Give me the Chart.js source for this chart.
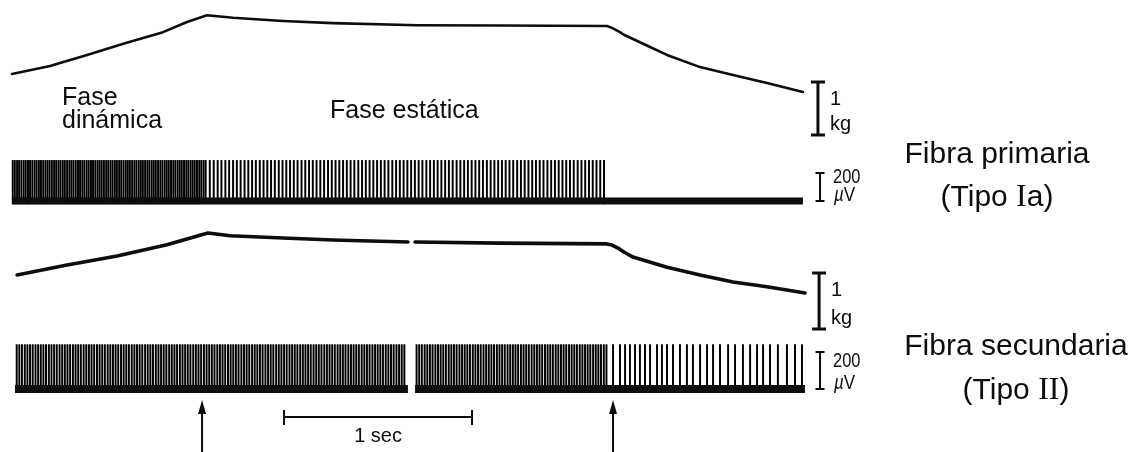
<!DOCTYPE html>
<html>
<head>
<meta charset="utf-8">
<script src="https://cdn.jsdelivr.net/npm/chart.js@4.4.1/dist/chart.umd.min.js"></script>
<style>
  html, body { margin: 0; padding: 0; background: #ffffff; }
  canvas { display: block; }
</style>
</head>
<body>
<canvas id="rec" width="1136" height="452" style="width:1136px;height:452px"></canvas>
<script>
// ---- Recorded data -------------------------------------------------------
// Muscle tension, primary fibre record (time in s, tension in kg relative to start)
const tensionPrimaryT  = [0, 0.202, 0.399, 0.601, 0.803, 0.931, 1.037, 1.176, 1.441, 1.707, 2.154, 2.596, 3.165, 3.191, 3.229, 3.255, 3.303, 3.394, 3.484, 3.660, 3.835, 4.016, 4.207];
const tensionPrimaryKg = [0, 0.15, 0.36, 0.58, 0.79, 0.98, 1.11, 1.06, 1.00, 0.96, 0.92, 0.915, 0.906, 0.87, 0.80, 0.74, 0.66, 0.51, 0.36, 0.13, -0.02, -0.17, -0.34];

// Muscle tension, secondary fibre record (null = gap in the trace)
const tensionSecondaryT  = [0.027, 0.293, 0.559, 0.824, 1.000, 1.043, 1.160, 1.441, 1.707, 2.106, 2.125, 2.144, 2.596, 3.165, 3.191, 3.229, 3.255, 3.303, 3.484, 3.660, 3.835, 4.016, 4.218];
const tensionSecondaryKg = [0, 0.18, 0.34, 0.54, 0.71, 0.75, 0.70, 0.66, 0.625, 0.59, null, 0.59, 0.57, 0.555, 0.535, 0.47, 0.41, 0.32, 0.14, 0, -0.125, -0.21, -0.32];

// Action potentials of the primary (Ia) ending, ms
const spikesPrimaryMs = [
  4, 15, 27, 38, 50, 62, 73, 85, 96, 108, 120, 131, 143, 154, 166, 178, 189, 200, 212, 224,
  235, 247, 258, 270, 281, 293, 305, 316, 327, 339, 351, 362, 374, 385, 397, 408, 420, 431, 443, 455,
  466, 477, 489, 501, 512, 524, 535, 547, 558, 570, 581, 593, 605, 616, 627, 639, 651, 662, 674, 685,
  696, 708, 720, 731, 743, 754, 765, 777, 789, 800, 812, 823, 834, 846, 858, 869, 881, 892, 903, 915,
  927, 938, 950, 961, 972, 984, 996, 1007, 1019, 1030,
  1052, 1073, 1094, 1114, 1135, 1155, 1176, 1196, 1216, 1237, 1257, 1277, 1297, 1318, 1338, 1358, 1378, 1398, 1419, 1439,
  1459, 1479, 1499, 1519, 1540, 1560, 1580, 1600, 1620, 1640, 1660, 1681, 1701, 1721, 1741, 1761, 1781, 1801, 1821, 1842,
  1862, 1882, 1902, 1922, 1942, 1962, 1982, 2002, 2023, 2043, 2063, 2083, 2103, 2123, 2143, 2163, 2183, 2204, 2224, 2244,
  2264, 2284, 2304, 2324, 2344, 2365, 2385, 2405, 2425, 2445, 2465, 2485, 2505, 2526, 2546, 2566, 2586, 2606, 2626, 2646,
  2666, 2687, 2707, 2727, 2747, 2767, 2787, 2807, 2827, 2848, 2868, 2888, 2908, 2928, 2948, 2968, 2988, 3009, 3029, 3049,
  3069, 3089, 3109, 3129, 3149
];

// Action potentials of the secondary (II) ending, ms
const spikesSecondaryMs = [
  25, 39, 53, 68, 82, 96, 110, 125, 139, 153, 167, 181, 196, 210, 224, 238, 253, 267, 281, 295,
  309, 324, 338, 352, 366, 381, 395, 409, 423, 437, 452, 466, 480, 494, 509, 523, 537, 551, 565, 580,
  594, 608, 622, 637, 651, 665, 679, 693, 708, 722, 736, 750, 765, 779, 793, 807, 821, 836, 850, 864,
  878, 893, 907, 921, 935, 949, 964, 978, 992, 1006, 1021, 1035, 1049, 1063, 1077, 1092, 1106, 1120, 1134, 1149,
  1163, 1177, 1191, 1205, 1220, 1234, 1248, 1262, 1277, 1291, 1305, 1319, 1333, 1348, 1362, 1376, 1390, 1405, 1419, 1433,
  1447, 1461, 1476, 1490, 1504, 1518, 1533, 1547, 1561, 1575, 1589, 1604, 1618, 1632, 1646, 1661, 1675, 1689, 1703, 1717,
  1732, 1746, 1760, 1774, 1789, 1803, 1817, 1831, 1845, 1860, 1874, 1888, 1902, 1917, 1931, 1945, 1959, 1973, 1988, 2002,
  2016, 2030, 2045, 2059, 2073, 2087,
  2152, 2166, 2180, 2195, 2209, 2223, 2237, 2252, 2266, 2280, 2294, 2308, 2323, 2337, 2351, 2365, 2380, 2394, 2408, 2422,
  2436, 2451, 2465, 2479, 2493, 2508, 2522, 2536, 2550, 2564, 2579, 2593, 2607, 2621, 2636, 2650, 2664, 2678, 2692, 2707,
  2721, 2735, 2749, 2764, 2778, 2792, 2806, 2820, 2835, 2849, 2863, 2877, 2892, 2906, 2920, 2934, 2948, 2963, 2977, 2991,
  3005, 3020, 3034, 3048, 3062, 3076, 3091, 3105, 3119, 3133, 3148, 3162,
  3197, 3234, 3261, 3287, 3314, 3340, 3367, 3394, 3431, 3457, 3484, 3516, 3553, 3590, 3622, 3660, 3697, 3729, 3766, 3809,
  3846, 3888, 3926, 3963, 3995, 4032, 4074, 4122, 4165, 4202
];

const spikeAmpPrimaryUV = 290;
const spikeAmpSecondaryUV = 240;

// Recording spans of the spike channels (s); the secondary record has a short break
const primaryChannelSpans   = [[0, 4.207]];
const secondaryChannelSpans = [[0.016, 2.106], [2.144, 4.218]];

// Events and calibration
const arrowTimesS   = [1.011, 3.197];     // end of stretch, start of release
const timeBarS      = [1.447, 2.447];     // 1 s calibration
const kgBarPrimary   = [-1.151, -0.151];  // 1 kg calibration, primary tension channel
const kgBarSecondary = [-0.964, 0.036];   // 1 kg calibration, secondary tension channel
const uvBar          = [0, 200];          // 200 µV calibration
const calibrationT   = { kg1: 4.287, uv1: 4.298, kg2: 4.293, uv2: 4.298 };

// ---- Layout helpers --------------------------------------------------------
const W = 1136, H = 452;
const PX_PER_S = 188, T0_PX = 12;
// A hidden y scale that puts value 0 at pixel zeroPx with pxPerUnit resolution
function channel(zeroPx, pxPerUnit) {
  return { type: 'linear', display: false, min: (zeroPx - H) / pxPerUnit, max: zeroPx / pxPerUnit };
}
// Hidden time axis (s); each spike channel gets its own copy so bar widths
// are computed from that channel's own spike spacing
function timeAxis() {
  return { type: 'linear', display: false, offset: false, min: -T0_PX / PX_PER_S, max: (W - T0_PX) / PX_PER_S };
}

const INK = '#0d0d0d';
const SANS = '"Liberation Sans", Arial, sans-serif';
const SERIF = '"Liberation Serif", "Times New Roman", serif';

function pts(ts, vs) { return ts.map((t, i) => ({ x: t, y: vs[i] })); }
function spikes(ms, amp) { return ms.map(m => ({ x: m / 1000, y: [-20, amp] })); }
function spans(list) {
  const out = [];
  list.forEach((s, i) => {
    if (i > 0) out.push({ x: (list[i - 1][1] + s[0]) / 2, y: null });
    out.push({ x: s[0], y: 0 }, { x: s[1], y: 0 });
  });
  return out;
}

const spikeStyle = {
  type: 'bar', grouped: false, maxBarThickness: 1.3, barPercentage: 1, categoryPercentage: 1,
  backgroundColor: '#000', borderWidth: 0
};
const lineStyle = {
  type: 'line', pointRadius: 0, tension: 0, fill: false, borderColor: INK,
  borderJoinStyle: 'round', borderCapStyle: 'round', spanGaps: false
};

// ---- Text and calibration overlay -----------------------------------------
function drawSegments(ctx, segs, x, y, align) {
  let total = 0;
  segs.forEach(s => { ctx.font = s.font; s.w = ctx.measureText(s.text).width; total += s.w; });
  let cx = align === 'center' ? x - total / 2 : x;
  segs.forEach(s => { ctx.font = s.font; ctx.fillText(s.text, cx, y); cx += s.w; });
}

function ibar(ctx, x, yTop, yBot, half, lw) {
  ctx.lineWidth = lw;
  ctx.lineCap = 'butt';
  ctx.beginPath();
  ctx.moveTo(x, yTop); ctx.lineTo(x, yBot);
  ctx.moveTo(x - half, yTop); ctx.lineTo(x + half, yTop);
  ctx.moveTo(x - half, yBot); ctx.lineTo(x + half, yBot);
  ctx.stroke();
}

function narrowText(ctx, text, x, y, font, squeeze) {
  ctx.save();
  ctx.translate(x, y);
  ctx.scale(squeeze, 1);
  ctx.font = font;
  ctx.fillText(text, 0, 0);
  ctx.restore();
}

const overlay = {
  id: 'overlay',
  afterDatasetsDraw(chart) {
    const ctx = chart.ctx, s = chart.scales;
    ctx.save();
    ctx.fillStyle = INK;
    ctx.strokeStyle = INK;
    ctx.textBaseline = 'alphabetic';
    ctx.textAlign = 'left';

    // phase labels
    ctx.font = '25px ' + SANS;
    ctx.fillText('Fase', 62, 105);
    ctx.fillText('dinámica', 62, 128);
    ctx.fillText('Fase estática', 330, 118);

    // fibre labels
    const big = '30px ' + SANS, bigSerif = '32px ' + SERIF;
    drawSegments(ctx, [{ text: 'Fibra primaria', font: big }], 997, 163, 'center');
    drawSegments(ctx, [{ text: '(Tipo ', font: big }, { text: 'I', font: bigSerif }, { text: 'a)', font: big }], 997, 206, 'center');
    drawSegments(ctx, [{ text: 'Fibra secundaria', font: big }], 1016, 355, 'center');
    drawSegments(ctx, [{ text: '(Tipo ', font: big }, { text: 'II', font: bigSerif }, { text: ')', font: big }], 1016, 399, 'center');

    // 1 kg calibrations
    [[s.yT1, kgBarPrimary, calibrationT.kg1], [s.yT2, kgBarSecondary, calibrationT.kg2]].forEach(([ys, b, t]) => {
      const x = s.x.getPixelForValue(t);
      const top = ys.getPixelForValue(b[1]), bot = ys.getPixelForValue(b[0]);
      ibar(ctx, x, top, bot, 7, 3);
      ctx.font = '20px ' + SANS;
      ctx.fillText('1', x + 12, top + 23);
      ctx.fillText('kg', x + 12, bot - 5);
    });

    // 200 µV calibrations
    [[s.yS1, calibrationT.uv1, 10], [s.yS2, calibrationT.uv2, 15]].forEach(([ys, t, off]) => {
      const x = s.x.getPixelForValue(t);
      const top = ys.getPixelForValue(uvBar[1]), bot = ys.getPixelForValue(uvBar[0]);
      ibar(ctx, x, top, bot, 4.5, 2);
      narrowText(ctx, '200', x + 13, top + off, '20px ' + SANS, 0.82);
      ctx.save();
      ctx.translate(x + 14, bot);
      ctx.scale(0.85, 1);
      ctx.font = 'italic 20px ' + SANS;
      ctx.fillText('µ', 0, 0);
      const mw = ctx.measureText('µ').width;
      ctx.font = '20px ' + SANS;
      ctx.fillText('V', mw, 0);
      ctx.restore();
    });

    // 1 s time calibration
    const x1 = s.x.getPixelForValue(timeBarS[0]), x2 = s.x.getPixelForValue(timeBarS[1]);
    ctx.lineWidth = 2;
    ctx.beginPath();
    ctx.moveTo(x1, 417); ctx.lineTo(x2, 417);
    ctx.moveTo(x1, 410); ctx.lineTo(x1, 425);
    ctx.moveTo(x2, 410); ctx.lineTo(x2, 425);
    ctx.stroke();
    ctx.font = '20px ' + SANS;
    ctx.textAlign = 'center';
    ctx.fillText('1 sec', (x1 + x2) / 2, 442);
    ctx.textAlign = 'left';

    // event arrows
    arrowTimesS.forEach(t => {
      const x = s.x.getPixelForValue(t);
      ctx.lineWidth = 2;
      ctx.beginPath();
      ctx.moveTo(x, H); ctx.lineTo(x, 410);
      ctx.stroke();
      ctx.beginPath();
      ctx.moveTo(x, 400); ctx.lineTo(x - 4, 414); ctx.lineTo(x + 4, 414);
      ctx.closePath();
      ctx.fill();
    });
    ctx.restore();
  }
};

// ---- Chart -----------------------------------------------------------------
new Chart(document.getElementById('rec'), {
  type: 'line',
  data: {
    datasets: [
      Object.assign({}, lineStyle, { data: pts(tensionPrimaryT, tensionPrimaryKg), xAxisID: 'x', yAxisID: 'yT1', borderWidth: 2.6 }),
      Object.assign({}, lineStyle, { data: pts(tensionSecondaryT, tensionSecondaryKg), xAxisID: 'x', yAxisID: 'yT2', borderWidth: 3.6 }),
      Object.assign({}, lineStyle, { data: spans(primaryChannelSpans), xAxisID: 'x', yAxisID: 'yS1', borderWidth: 7, borderCapStyle: 'butt' }),
      Object.assign({}, lineStyle, { data: spans(secondaryChannelSpans), xAxisID: 'x', yAxisID: 'yS2', borderWidth: 8, borderCapStyle: 'butt' }),
      Object.assign({}, spikeStyle, { data: spikes(spikesPrimaryMs, spikeAmpPrimaryUV), xAxisID: 'xP', yAxisID: 'yS1' }),
      Object.assign({}, spikeStyle, { data: spikes(spikesSecondaryMs, spikeAmpSecondaryUV), xAxisID: 'xS', yAxisID: 'yS2' })
    ]
  },
  options: {
    responsive: false,
    devicePixelRatio: 1,
    animation: false,
    events: [],
    layout: { padding: 0 },
    plugins: { legend: { display: false }, tooltip: { enabled: false } },
    scales: {
      x: timeAxis(),
      xP: Object.assign(timeAxis(), { axis: 'x' }),
      xS: Object.assign(timeAxis(), { axis: 'x' }),
      yT1: channel(74, 53),
      yS1: channel(201, 0.14),
      yT2: channel(275, 56),
      yS2: channel(389, 0.185)
    }
  },
  plugins: [overlay]
});
</script>
</body>
</html>
